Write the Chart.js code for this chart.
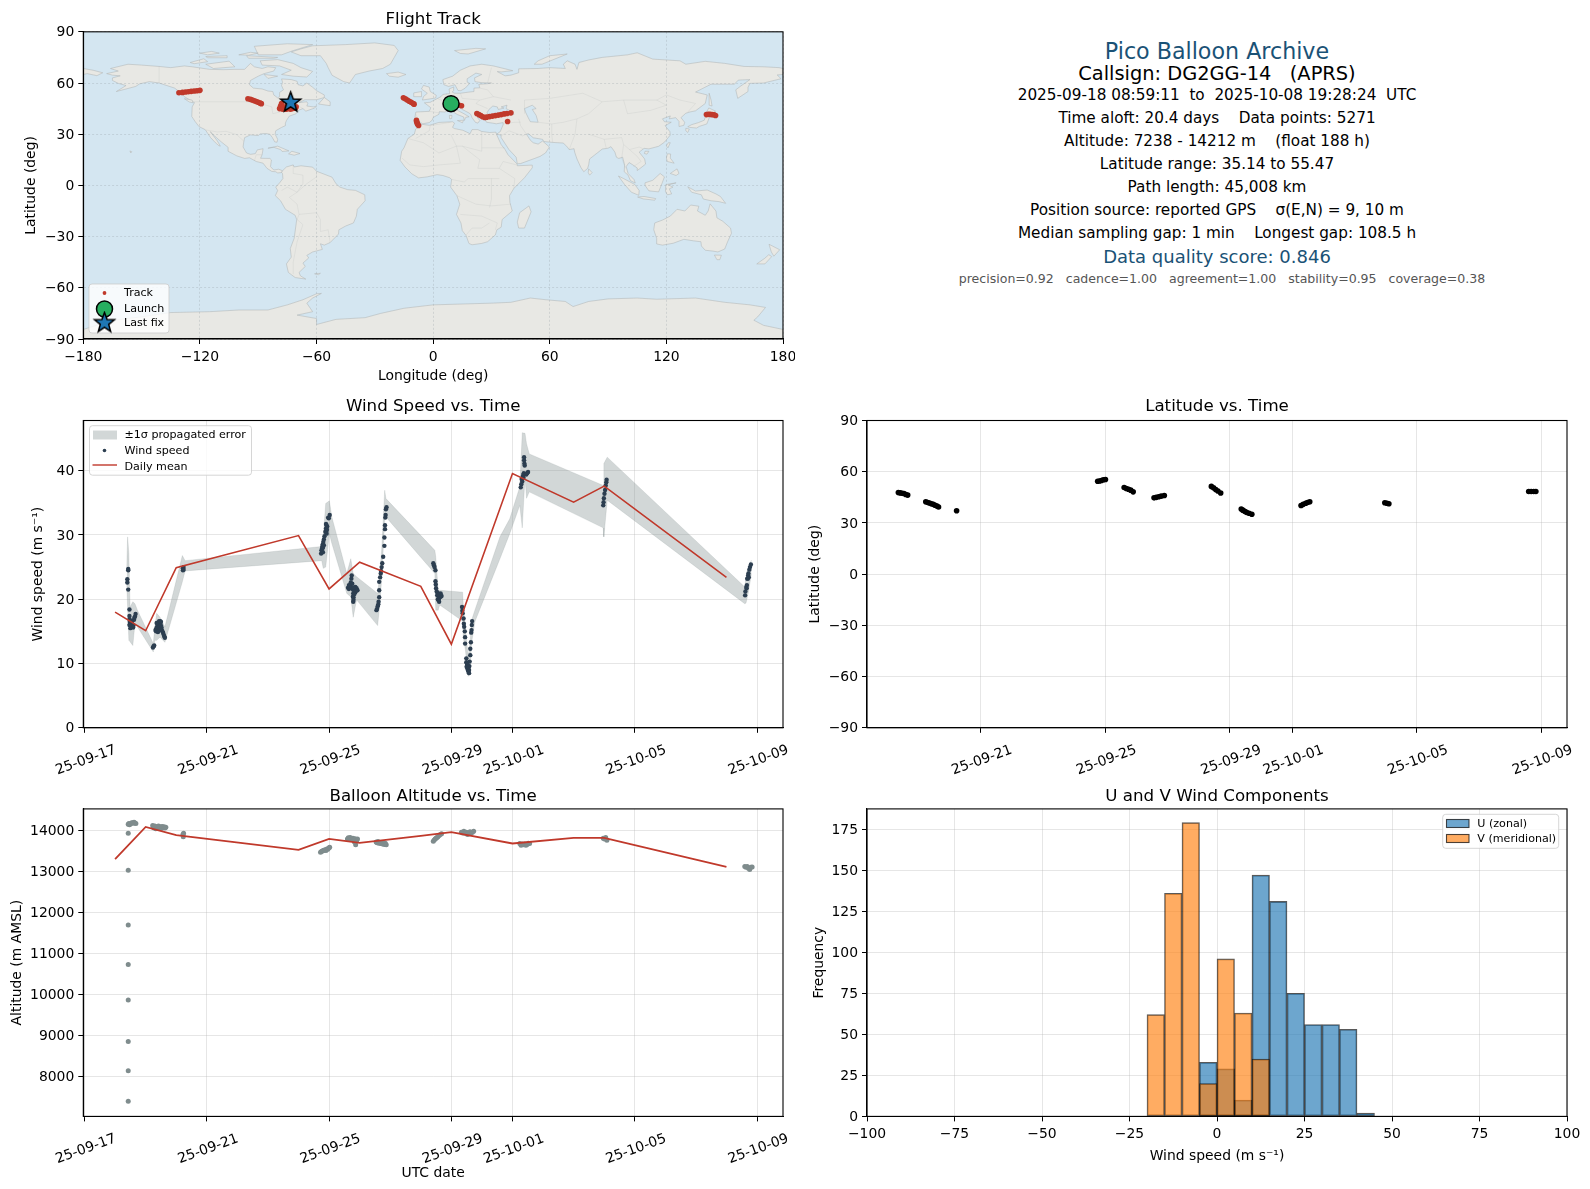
<!DOCTYPE html>
<html>
<head>
<meta charset="utf-8">
<title>Pico Balloon Archive</title>
<script src="https://cdn.jsdelivr.net/npm/chart.js@4"></script>
<style>
    html, body { margin: 0; padding: 0; background: #fff; }
    body { position: relative; width: 1590px; height: 1189px; overflow: hidden; font-family: "DejaVu Sans", sans-serif; }
    canvas { position: absolute; }
    .info { position: absolute; left: 817px; width: 800px; text-align: center; white-space: pre; color: #000; transform: translateY(-50%); }
    .big { font-size: 22.2px; color: #1a5276; }
    .sub { font-size: 19.4px; }
    .row { font-size: 15.25px; }
    .score { font-size: 18px; color: #1a5276; }
    .small { font-size: 12.55px; color: #555; }
</style>
</head>
<body>
<canvas id="mapChart" width="795" height="385" style="left:0;top:0"></canvas>
<canvas id="windChart" width="795" height="390" style="left:0;top:385px"></canvas>
<canvas id="latChart" width="795" height="390" style="left:795px;top:385px"></canvas>
<canvas id="altChart" width="795" height="414" style="left:0;top:775px"></canvas>
<canvas id="histChart" width="795" height="414" style="left:795px;top:775px"></canvas>

<div class="info big" style="top:51px">Pico Balloon Archive</div>
<div class="info sub" style="top:73px">Callsign: DG2GG-14   (APRS)</div>
<div class="info row" style="top:95px">2025-09-18 08:59:11  to  2025-10-08 19:28:24  UTC</div>
<div class="info row" style="top:118px">Time aloft: 20.4 days    Data points: 5271</div>
<div class="info row" style="top:141px">Altitude: 7238 - 14212 m    (float 188 h)</div>
<div class="info row" style="top:164px">Latitude range: 35.14 to 55.47</div>
<div class="info row" style="top:187px">Path length: 45,008 km</div>
<div class="info row" style="top:210px">Position source: reported GPS    σ(E,N) = 9, 10 m</div>
<div class="info row" style="top:233px">Median sampling gap: 1 min    Longest gap: 108.5 h</div>
<div class="info score" style="top:256px">Data quality score: 0.846</div>
<div class="info small" style="top:277.5px;margin-left:5px">precision=0.92   cadence=1.00   agreement=1.00   stability=0.95   coverage=0.38</div>

<script>
// Time axis is in days since 2025-09-17 00:00 UTC
const dateTickDays = [0, 4, 8, 12, 14, 18, 22];
const dateTickLabels = ['25-09-17', '25-09-21', '25-09-25', '25-09-29', '25-10-01', '25-10-05', '25-10-09'];

// Map ticks
const lonTicks = [-180, -120, -60, 0, 60, 120, 180];
const latTicks = [-90, -60, -30, 0, 30, 60, 90];
const windTicks = [0, 10, 20, 30, 40];
const altTicks = [8000, 9000, 10000, 11000, 12000, 13000, 14000];
const histXTicks = [-100, -75, -50, -25, 0, 25, 50, 75, 100];
const histYTicks = [0, 25, 50, 75, 100, 125, 150, 175];

// Flight track, lon / lat
const trackLon = [-130.8, -129, -127.5, -126, -124.5, -123, -121.5, -120,
    -95.3, -94, -93, -92, -91, -90, -89, -88.4,
    -79, -78.5, -78, -77, -76, -75, -74.5, -73.5, -73, -72, -71, -70.5, -77.5, -75.5, -72.5,
    -15.3, -14.3, -13.3, -12.3, -11.3, -10.3, -9.8,
    -8.6, -8.5, -8.2, -8, -7.5,
    14.6, 13.4,
    22.5, 23.5, 24.5, 25.5, 26.6,
    27.5, 29, 30.5, 32, 33.5, 35, 36.5, 38, 40,
    38.3,
    140.6, 141.5, 142.5, 143.5, 144.5, 145.3];
const trackLat = [54.3, 54.5, 54.7, 54.9, 55.1, 55.3, 55.5, 55.7,
    50.8, 50.4, 50, 49.6, 49.2, 48.7, 48.2, 47.9,
    45, 46.5, 48, 46, 44.8, 47, 45.5, 44.6, 48.4, 46, 45.2, 46, 44.7, 44.6, 45,
    51.4, 50.8, 50, 49.3, 48.7, 48, 47.6,
    38.2, 37.3, 36.5, 35.8, 35.1,
    46.7, 47,
    42.1, 41.5, 40.9, 40.2, 39.8,
    40, 40.3, 40.6, 40.9, 41.2, 41.5, 41.9, 42.1, 42.5,
    37.4,
    41.5, 41.7, 41.6, 41.5, 41.4, 41];
const launchLon = [9.2], launchLat = [47.9];
const lastLon = [-73.3], lastLat = [48.6];

// Wind speed samples
const windTimes = [1.43, 1.43, 1.40, 1.40, 1.43, 1.47, 1.47, 1.47, 1.48, 1.49, 1.50, 1.52, 1.53, 1.55, 1.57, 1.59, 1.60, 1.62, 1.63, 1.65, 1.67, 1.50, 1.55, 1.47,
    2.24, 2.26, 2.28,
    2.32, 2.34, 2.35, 2.37, 2.38, 2.40, 2.42, 2.44, 2.45, 2.47, 2.48, 2.50, 2.52, 2.53, 2.55, 2.57, 2.59, 2.61, 2.63, 2.36, 2.40, 2.44, 2.47, 2.50, 2.42,
    3.22, 3.22, 3.24, 3.24,
    7.74, 7.75, 7.77, 7.78, 7.79, 7.80, 7.81, 7.83, 7.85, 7.88, 7.90, 7.91, 7.92, 7.93, 7.94, 7.97, 7.99, 8.02, 7.80, 7.83, 7.92, 7.90,
    8.62, 8.65, 8.67, 8.69, 8.71, 8.73, 8.74, 8.76, 8.78, 8.79, 8.80, 8.79, 8.80, 8.82, 8.84, 8.86, 8.88, 8.90, 8.93, 8.83, 8.86, 8.78, 8.65, 8.72, 8.80,
    9.55, 9.57, 9.59, 9.61, 9.62, 9.64, 9.64, 9.64, 9.67, 9.69, 9.70, 9.72, 9.74, 9.77, 9.81, 9.81, 9.83, 9.83, 9.84, 9.85, 9.86, 9.88,
    11.41, 11.43, 11.45, 11.48, 11.48, 11.49, 11.50, 11.52, 11.54, 11.56, 11.57, 11.60, 11.62, 11.65, 11.68, 11.55, 11.60, 11.65, 11.58,
    12.35, 12.36, 12.37, 12.40, 12.41, 12.42, 12.44, 12.45, 12.45, 12.49, 12.49, 12.51, 12.52, 12.54, 12.56, 12.58, 12.59, 12.60, 12.62, 12.62, 12.64, 12.65, 12.66, 12.67, 12.68, 12.53, 12.56, 12.50, 12.58,
    14.27, 14.29, 14.32, 14.33, 14.35, 14.37, 14.39, 14.38, 14.38, 14.40, 14.45, 14.48, 14.51, 14.30, 14.36,
    16.97, 16.98, 16.99, 17.01, 17.03, 17.05, 17.07, 17.08,
    21.61, 21.62, 21.65, 21.67, 21.68, 21.71, 21.73, 21.75, 21.77, 21.80, 21.70, 21.72, 21.66];
const windSpeeds = [24.7, 24.5, 23.1, 22.6, 21.5, 18.4, 17.4, 16.9, 16.5, 16.1, 16.7, 15.9, 16.3, 15.8, 16.0, 15.6, 15.9, 16.8, 17.1, 17.3, 17.7, 15.5, 16.5, 16.0,
    12.5, 12.7, 12.8,
    15.2, 15.0, 15.5, 15.3, 15.8, 15.6, 16.0, 15.7, 16.3, 16.6, 16.2, 15.9, 15.6, 15.2, 15.0, 14.8, 14.5, 14.2, 14.0, 16.3, 14.9, 16.6, 15.3, 16.5, 15.0,
    24.5, 24.8, 25.0, 24.6,
    27.1, 27.6, 27.9, 28.2, 28.5, 28.0, 28.9, 29.3, 29.8, 30.5, 31, 30.5, 31.5, 30.8, 31.3, 32.7, 32.6, 33.1, 27.3, 28.4, 30.2, 31.7,
    21.8, 21.6, 21.9, 22.2, 22.6, 23.2, 23.7, 22.4, 21.5, 20.9, 20.3, 19.6, 19.9, 21.0, 21.3, 21.1, 21.6, 21.7, 21.4, 20.8, 21.9, 20.4, 22.2, 21.8, 21.8,
    18.3, 18.5, 18.9, 19.2, 19.6, 20.3, 21.4, 22.7, 23.4, 24, 24.4, 25, 25.6, 26.6, 28.3, 29.6, 30.9, 31.5, 32.7, 33.1, 34.0, 34.3,
    25.6, 25.3, 25.0, 24.5, 22.8, 22.3, 21.7, 21.2, 20.6, 20.0, 19.9, 20.1, 20.3, 20.4, 20.5, 21, 19.6, 20.9, 20.7,
    18.8, 18.2, 17.8, 17.0, 16.2, 15.7, 15.0, 14.1, 13.1, 10.8, 10.2, 10.0, 9.3, 9.0, 8.7, 9.0, 9.6, 10.3, 11.3, 12.3, 13.3, 14.8, 15.2, 16.0, 16.6, 9.8, 9.4, 9.5, 8.5,
    37.4, 37.9, 38.3, 38.9, 39.3, 39.6, 41.1, 41.6, 42.1, 40.8, 39.4, 39.6, 39.8, 38.7, 38.9,
    34.6, 35.1, 35.7, 36.4, 37, 37.7, 38.2, 38.6,
    20.6, 21.2, 21.9, 22.2, 23.2, 23.7, 23.4, 24.6, 25, 25.4, 23.2, 24, 21.7];

// +/- 1 sigma band around the wind speed
const bandTimes = [1.38, 1.41, 1.45, 1.49, 1.58, 1.65, 1.73, 2.25, 2.30, 2.36, 2.47, 2.63, 3.20, 3.29,
    7.76, 7.81, 7.89, 8.01, 8.09, 8.58, 8.71, 8.79, 8.90, 9.59, 9.65, 9.72, 9.82, 9.86,
    11.46, 11.49, 11.57, 11.62, 12.37, 12.39, 12.46, 12.55, 12.61, 12.66, 12.77, 13.59, 13.91, 14.24, 14.32, 14.41, 14.46, 14.55,
    16.97, 16.99, 17.10, 21.60, 21.64, 21.71, 21.82];
const bandUpper = [25.0, 29.7, 27.1, 18.8, 19.6, 19.3, 18.3, 13.1, 15.7, 17.8, 17.2, 15.7, 26.8, 26.0,
    28.2, 29.7, 34.9, 35.3, 32.8, 24.0, 26.3, 24.0, 23.5, 20.9, 23.5, 27.6, 36.95, 35.65,
    27.6, 26.6, 21.4, 21.4, 21.1, 19.0, 15.7, 11.0, 13.1, 16.7, 18.3, 29.7, 32.5, 37.5, 45.9, 45.8, 44.2, 42.6,
    37.7, 41.1, 42.1, 21.9, 23.5, 25.0, 26.1];
const bandLower = [22.4, 18.8, 13.6, 13.4, 12.8, 16.2, 15.7, 11.8, 13.6, 13.6, 14.1, 13.3, 22.7, 24.4,
    26.0, 24.8, 25.0, 30.2, 28.7, 20.9, 20.4, 17.2, 19.9, 15.9, 18.8, 23.0, 32.3, 32.8,
    24.0, 18.3, 18.3, 19.1, 16.6, 14.1, 12.1, 8.0, 8.4, 13.1, 16.5, 26.3, 30.2, 34.6, 31.1, 39.0, 35.7, 36.7,
    31.1, 29.7, 35.4, 19.3, 19.4, 20.9, 24.0];

// Daily means
const dailyTimes = [1, 2, 3, 7, 8, 9, 11, 12, 14, 16, 17, 21];
const dailyWind = [18.0, 15.1, 24.9, 29.9, 21.6, 25.75, 22.0, 13.0, 39.55, 35.1, 37.6, 23.4];
const dailyAlt = [13300, 14088, 13885, 13527, 13795, 13698, 13868, 13958, 13683, 13820, 13820, 13112];

// Latitude samples
const latTimes = [1.36, 1.42, 1.48, 1.54, 1.60, 1.66,
    2.24, 2.30, 2.36, 2.42, 2.48, 2.54, 2.60, 2.65,
    3.23,
    7.76, 7.82, 7.88, 7.94, 8.01,
    8.61, 8.68, 8.75, 8.82, 8.90,
    9.57, 9.64, 9.72, 9.80, 9.90,
    11.41, 11.48, 11.55, 11.62, 11.71,
    12.37, 12.42, 12.48, 12.54, 12.62, 12.71,
    14.29, 14.36, 14.44, 14.50, 14.57,
    16.98, 17.05, 17.11,
    21.6, 21.68, 21.76, 21.83];
const latValues = [47.8, 47.6, 47.4, 47.2, 46.7, 46.3,
    42.4, 42, 41.7, 41.2, 40.9, 40.4, 39.9, 39.3,
    37.1,
    54.4, 54.6, 54.9, 55.3, 55.4,
    50.8, 50.2, 49.7, 49.2, 48.2,
    44.7, 45, 45.3, 45.7, 46.1,
    51.4, 50.6, 49.6, 48.7, 47.5,
    38.2, 37.5, 36.8, 36.2, 35.7, 35.1,
    40.2, 40.9, 41.5, 42, 42.4,
    41.8, 41.5, 41.2,
    48.4, 48.4, 48.4, 48.4];

// Altitude samples
const altTimes = [1.43, 1.43, 1.43, 1.43, 1.43, 1.43, 1.43, 1.43,
    1.43, 1.45, 1.47, 1.50, 1.53, 1.56, 1.59, 1.62, 1.65, 1.68,
    2.23, 2.25, 2.28, 2.30, 2.33, 2.36, 2.39, 2.42, 2.45, 2.48, 2.51, 2.54, 2.57, 2.60, 2.63, 2.66,
    3.22, 3.23, 3.24,
    7.72, 7.75, 7.78, 7.81, 7.84, 7.87, 7.90, 7.93, 7.96, 7.99, 8.02,
    8.60, 8.63, 8.66, 8.69, 8.72, 8.75, 8.78, 8.81, 8.83, 8.85, 8.87, 8.90, 8.93,
    9.54, 9.57, 9.60, 9.63, 9.66, 9.69, 9.72, 9.75, 9.78, 9.81, 9.84, 9.87,
    11.41, 11.44, 11.47, 11.50, 11.53, 11.56, 11.60, 11.64, 11.68,
    12.33, 12.37, 12.41, 12.45, 12.49, 12.53, 12.57, 12.61, 12.65, 12.69, 12.73,
    14.24, 14.28, 14.32, 14.36, 14.40, 14.44, 14.48, 14.52, 14.56,
    16.97, 17.01, 17.05, 17.09,
    21.60, 21.64, 21.68, 21.72, 21.76, 21.80, 21.84];
const altValues = [7393, 8134, 8851, 9866, 10732, 11695, 13032, 13930,
    14153, 14170, 14140, 14160, 14180, 14190, 14175, 14200, 14185, 14170,
    14120, 14080, 14060, 14110, 14040, 14090, 14070, 14110, 14060, 14090, 14050, 14100, 14070, 14090, 14060, 14080,
    13900, 13850, 13930,
    13470, 13490, 13500, 13510, 13520, 13530, 13510, 13550, 13540, 13570, 13590,
    13790, 13820, 13790, 13830, 13800, 13780, 13810, 13770, 13720, 13800, 13650, 13750, 13790,
    13720, 13700, 13730, 13690, 13710, 13680, 13700, 13670, 13700, 13660, 13690, 13650,
    13740, 13770, 13790, 13810, 13830, 13850, 13880, 13900, 13920,
    13960, 13940, 13980, 13930, 13960, 13900, 13950, 13970, 13940, 13960, 13980,
    13680, 13640, 13670, 13650, 13670, 13640, 13660, 13690, 13680,
    13810, 13790, 13830, 13760,
    13120, 13100, 13120, 13080, 13050, 13100, 13110];

// Histogram, bin centres (5 m/s wide bins)
const uBins = [-2.5, 2.5, 7.5, 12.5, 17.5, 22.5, 27.5, 32.5, 37.5, 42.5];
const uCounts = [33, 29, 10, 147, 131, 75, 56, 56, 53, 2];
const vBins = [-17.5, -12.5, -7.5, -2.5, 2.5, 7.5, 12.5];
const vCounts = [62, 136, 179, 20, 96, 63, 35];

// World outlines, rough coastlines as [lon, lat]
const landShapes = [
    // North America
    [[-168,65.5],[-164,66.5],[-162,67],[-166,68.5],[-157,71],[-150,70.5],[-141,69.7],[-135,69],[-128,70],[-124,69.5],[-115,68],[-108,67.8],[-102,68],[-97,68],[-94,71.5],[-92,69.5],[-88,68.5],[-85,69.5],[-81,69],[-82,67],[-87,65.5],[-90,64],[-94,61.5],[-94.5,59],[-92.5,57],[-88,56.5],[-85,55.3],[-82.5,55],[-82,53],[-80,51.3],[-79,52],[-79,54.5],[-77,56],[-78,58.5],[-77.5,60.5],[-78,62.4],[-73,62],[-70,61],[-69.5,59],[-67,58.3],[-65,60],[-62,57.5],[-60,55.5],[-56,53],[-56,51.5],[-60,50.2],[-66,50.2],[-69,48.5],[-65,49],[-64.5,48],[-65,46.5],[-61.5,46],[-60,46.5],[-61,45.3],[-65.5,43.5],[-67,45],[-70,43.7],[-70.5,42],[-74,40.6],[-75.5,38],[-76,36.5],[-76,35],[-78,34],[-81,32],[-81.3,30],[-80,27],[-80.3,25.3],[-81.5,25.5],[-82.7,28],[-84,30],[-86,30.4],[-89,30.2],[-90,29.2],[-94,29.6],[-97,28],[-97.5,25],[-97.8,22.5],[-96,19],[-94,18.2],[-91.5,18.6],[-90.5,20.8],[-87.5,21.5],[-88,18],[-88.8,15.9],[-84,15.8],[-83.2,14.9],[-83.7,11],[-82,9],[-79.5,9.5],[-77.5,8.6],[-78,7.5],[-80,7.3],[-81,8],[-83,8.2],[-85.5,10],[-87.5,13],[-91,14],[-94.5,16.2],[-97,15.8],[-101,17.3],[-105.5,20],[-105.5,22.3],[-109,25.5],[-112.5,29],[-114.7,31.5],[-113,29],[-111,26],[-109.5,23],[-110.3,23.3],[-112,25],[-114.5,28],[-116,30.5],[-117.2,32.6],[-120.5,34.5],[-122.5,37.5],[-124.2,40.4],[-124,46],[-122.8,48.5],[-125,50],[-128,52],[-130.3,54.7],[-133,57],[-137,58.5],[-141,60],[-146,60.8],[-151,59.5],[-153,58],[-158,56.5],[-163,55],[-158,58.5],[-162,59.8],[-165,61.5],[-165,63],[-161,64.2],[-165,64.6]],
    // Greenland
    [[-73,78.2],[-68,80],[-62,81.8],[-45,82.5],[-30,83.5],[-20,82],[-18,79],[-20,75],[-22,71],[-26,68.5],[-33,67],[-40,65],[-43,60],[-46,60.8],[-52,64.5],[-54,69],[-55,71.5],[-58,76],[-68,76]],
    // Arctic Canada
    [[-80,73.7],[-72,71.5],[-68,69],[-62,66.8],[-65,63.5],[-72,64],[-78,65],[-73,67.5],[-79,70],[-88,70.5],[-89,73]],
    [[-117,71],[-105,72.8],[-102,69.5],[-113,68.5]],
    [[-125,72],[-118,74.2],[-116,72.5],[-123,71.3]],
    [[-90,76.5],[-78,76.5],[-72,79],[-62,82.5],[-75,83],[-92,81.5]],
    [[-96,76],[-80,75],[-82,74.5],[-95,74.5]],
    [[-117,75.5],[-106,76],[-106,74.8],[-116,74.8]],
    [[-120,77.5],[-114,78.5],[-110,77.5],[-116,76.5]],
    [[-100,76.5],[-94,78],[-90,77.5],[-95,76.3]],
    [[-87,65],[-80,64],[-85,62.7]],
    [[-59,47.7],[-53,46.7],[-53,49],[-56,51.5]],
    [[-128,50.8],[-124,50],[-123.5,48.4],[-125.5,48.9]],
    // Caribbean, Hawaii
    [[-85,21.8],[-80,23],[-74.2,20.2],[-77.7,19.9],[-78.5,21],[-82,22.3]],
    [[-74.4,18.5],[-72.7,20],[-68.5,18.7],[-71.5,17.7]],
    [[-156,20.2],[-155,19.7],[-155.6,19]],
    // South America
    [[-77.5,8.6],[-75.5,10.8],[-72,12],[-71.5,10.8],[-68,11.5],[-62,10.7],[-60,8.3],[-52,4.8],[-50,1],[-48,-1],[-44,-2.5],[-40,-2.9],[-35.2,-5.5],[-35,-9],[-39,-14],[-39.5,-18],[-41,-22],[-45,-23.8],[-48.5,-26],[-48.7,-28.5],[-53,-33.5],[-56,-35],[-58,-34.2],[-57,-37.5],[-62,-39],[-65,-41],[-64,-42.5],[-67,-45.5],[-65.8,-47.5],[-69,-51],[-68.3,-53],[-65.5,-54.9],[-71,-54],[-74.5,-51],[-75.5,-46],[-73,-42],[-73.5,-37],[-71.5,-31],[-70.2,-20],[-71,-17.5],[-76,-14],[-78.5,-9],[-81.2,-6],[-80,-3],[-81,-1],[-79,1.5],[-77.3,4],[-77.5,7],[-78,7.5]],
    [[-61,-51.8],[-58,-51.5],[-59,-52.3]],
    // Eurasia
    [[-9,37],[-9.5,38.8],[-8.9,43],[-2,43.4],[-1.2,45.5],[-4.5,48.4],[-1.5,48.7],[1.5,50.5],[4,52],[5,53.3],[8.5,53.8],[8.2,56.5],[10.6,57.7],[10.5,55.5],[9.8,54.7],[11,54],[14,54],[18.5,54.7],[21,55],[21,57],[24,57.2],[23.5,59.2],[28,59.6],[30,60],[25,60.2],[21.5,60.8],[21.3,63],[25,65],[22,65.8],[17.5,62.5],[17.5,60.5],[18.8,59.8],[16.5,57],[14.3,55.5],[12.8,55.6],[11.2,59],[8,58],[5.5,59],[5,62],[10,64],[14,67.5],[19,70],[25,71],[31,70],[41,67.2],[35,66.5],[33,66.7],[37,64.2],[40,64.6],[44,66],[44,68.3],[54,68.5],[60,69],[68,68.5],[67,71],[69,73],[73,71],[74,68],[75,72],[80,73.5],[87,75],[100,76.5],[105,77.7],[113,74],[127,73],[130,71],[140,72.7],[150,71.5],[160,69.7],[170,69.5],[178,69],[180,68.5],[180,65],[177,64.7],[179,62.5],[170,60],[163,59.8],[162,57.5],[162,55],[156.7,51],[155.7,56],[158,58],[163,62],[157,61.7],[155,59.3],[143,59.3],[135,54.7],[141,53],[140,48],[135,43.7],[132,43],[130,42.3],[127.5,39.7],[129.4,37],[129,35.2],[126.5,34.5],[126.5,37.5],[124.8,39.7],[121.5,39],[122,40.7],[118,39],[119,37.3],[122.5,37],[119.3,35],[121.8,31.5],[122,29.5],[119,25.3],[116,22.9],[111,21.4],[108.5,21.7],[106,19.5],[108.8,15.5],[109.3,12.5],[107,10.4],[105,8.7],[105,10.2],[102.5,12.2],[100.8,13.4],[99.3,11],[100.3,7],[103.3,3.5],[104,1.4],[101.5,2.8],[100.3,6],[98.3,8],[98.5,12],[97.5,16.5],[95.5,15.8],[94.3,16.5],[93.5,19.5],[91.5,22.7],[90,21.8],[87,21.3],[85,19.5],[80.5,15.5],[80,12],[79.5,10],[77.5,8],[76,10.5],[74,15.5],[72.8,19.5],[72.5,21.5],[70,21],[69,22.5],[67,24.8],[61.5,25.2],[57,25.7],[56.3,27],[51.5,27.9],[49,30.3],[48,30],[50,26.5],[51.5,25],[54,24.2],[56.3,26],[59.8,22.5],[57.8,19],[55,17],[52,15.7],[45,12.8],[43.3,12.7],[42.7,16.5],[39,21],[35,28],[34.9,29.5],[32.6,30],[34.5,31.5],[36,35.5],[36,36.8],[32.5,36.1],[30.5,36.5],[27.5,37],[26.3,39.3],[29,41],[31.5,41.1],[35,42],[38,41],[41.5,41.6],[41,43],[37.5,45],[38,47],[35,46],[36.5,45.3],[33.5,44.5],[33,46],[30.7,46.5],[28.7,44.5],[27.7,42.5],[28.5,41.3],[26,40.7],[23.5,40.5],[22.7,40],[24,38],[23,36.5],[21.7,37],[20,39.7],[19.4,41.5],[18.5,42.4],[15,44.5],[13.7,45.7],[12.3,45.3],[12.5,44],[16,41.9],[18.5,40.2],[16.8,39.9],[16,38],[15.7,40.1],[12.5,41.5],[10.3,43],[8.8,44.4],[6,43],[3.2,43.2],[3,41.7],[0,39.8],[-0.5,38.2],[-2,36.8],[-5.4,36.1],[-6.5,36.9]],
    [[-180,65],[-180,68.5],[-175,67.5],[-170,66],[-173,64.3],[-178,65.5]],
    // Islands around Europe
    [[-24,65.5],[-18,66.4],[-14,65],[-18,63.4],[-22.5,64]],
    [[-5.5,50],[1.3,51.2],[1.6,52.8],[-1.5,55],[-2,57.6],[-5,58.6],[-6,56.5],[-3,54],[-5,52]],
    [[-10,52],[-6,52],[-6,55],[-10,54.2]],
    [[11,79],[22,80.3],[27,80],[18,77],[14,77.3]],
    [[52,71],[56,71],[69,77],[60,76],[54,73]],
    [[12.5,38],[15.6,38.2],[15.1,36.7]],
    [[8.3,41],[9.7,41],[9.5,39.2],[8.5,39]],
    // East Asia
    [[142,54],[143,50],[143.5,46.5],[142,47]],
    [[140.3,42],[141.8,45.4],[145.3,43.5],[143,42],[141,41.7]],
    [[141,41.3],[142,39.5],[140.8,36],[137,34.6],[135.5,33.6],[132,34],[131,34.4],[133,35.6],[136.5,36.8],[139.5,38.2],[140,40]],
    [[130,33.5],[131.8,33],[131,31],[130,32]],
    [[121,25],[122,25],[120.8,22],[120,23.2]],
    [[109,20],[111,20],[110,18.3],[108.7,18.7]],
    [[120.5,18.5],[122.2,18.4],[122,16],[124,13],[120.5,14],[120,16]],
    [[122,7],[125.5,9.7],[126.5,7],[125,5.8]],
    [[80,9.7],[81.8,7.5],[80.5,6],[79.8,7.5]],
    // Indonesia, New Guinea
    [[109,1.5],[113,3],[116.8,7],[119,5],[117.7,1],[116,-3.8],[111,-3.2],[109,0]],
    [[95.3,5.5],[98,4],[103.8,0.5],[106,-3],[105.8,-5.8],[102,-4],[98.5,0.5]],
    [[105.2,-6.8],[108.5,-6.5],[114.5,-7.7],[114,-8.7],[108,-7.9]],
    [[119.7,0.5],[125,1.5],[121,0.3],[123.4,-1],[121.5,-2],[122.7,-5],[120.5,-5.5],[119.5,-3.5]],
    [[131,-0.8],[135,-3.3],[141,-2.7],[145.5,-5],[147.8,-6.5],[150.5,-10.5],[147,-9.5],[143,-9],[139,-8],[138,-5.5],[133,-4],[132.2,-2.8]],
    // Africa
    [[-5.8,35.8],[-2,35.2],[3,36.9],[10,37.3],[11,36.5],[10,34],[11,33.3],[15.3,32.3],[19,30.3],[20,32.7],[23,32.7],[25,31.6],[29,31],[32.3,31.2],[32.6,29.9],[35,23.9],[37,21],[38.5,18],[43.2,12.5],[43.3,11.5],[51,11.9],[51,10.3],[47,4.5],[41.5,-1.8],[39.3,-6],[39.5,-10],[40.7,-15],[35.5,-20],[35,-24.5],[32.8,-26],[32,-29],[28,-33],[25,-34],[20,-34.8],[18.4,-34],[17,-29.5],[15,-26.5],[14.3,-22],[12,-17],[13.7,-11],[12.2,-6],[9,-1],[9.5,3.5],[8.5,4.5],[5,5.8],[2,6.3],[-3,5],[-7.5,4.4],[-11,6.8],[-14.5,10.8],[-17,14.7],[-16.2,20],[-15,22],[-13,27.5],[-9.7,30],[-9,33]],
    [[49.3,-12],[50.4,-15.5],[47,-25],[44,-25],[43.3,-21.5],[44.5,-16]],
    // Australia and New Zealand
    [[114,-22],[113.5,-26],[115,-31],[115,-34.3],[118,-35],[123.5,-33.9],[129,-31.6],[134,-32.5],[137.8,-33],[138,-35.5],[140,-38],[144,-38.5],[146.5,-39],[150,-37.3],[151.5,-33],[153.5,-28],[153,-25],[149,-21],[146,-19],[145.5,-15],[142.5,-10.8],[141.5,-15],[140,-17.5],[136,-15],[136.7,-12.2],[132.5,-11.5],[129.5,-15],[125.5,-14],[122,-18],[118,-20.3]],
    [[144.7,-40.8],[148.3,-40.9],[147.5,-43.5],[146,-43.5]],
    [[172.8,-34.5],[178.3,-37.7],[175.3,-41.5],[174,-39]],
    [[172.7,-40.6],[174.2,-41.7],[170.7,-46],[166.5,-46],[170.5,-42.8]],
    // Antarctica
    [[-180,-84.4],[-165,-79],[-150,-77],[-135,-74.5],[-115,-74],[-100,-73],[-85,-73],[-75,-70],[-67,-67],[-60,-63.5],[-57.5,-63.3],[-62,-66],[-65,-69],[-62,-74],[-70,-76],[-60,-78],[-60,-81.5],[-50,-78.5],[-35,-77.5],[-27,-75],[-15,-72],[0,-70],[15,-69.5],[30,-69],[40,-68.5],[50,-66],[58,-67],[68,-68],[72,-71],[80,-68],[90,-66.5],[105,-66],[115,-66.7],[135,-66],[150,-68.5],[163,-70],[171,-71.5],[167,-77],[165,-79],[170,-82],[180,-84.4],[180,-90],[-180,-90]]
];
const caspianShape = [[47,45],[51,47],[53,45],[51,44.5],[53,41],[54,37],[50,37.3],[49,39.5],[47.5,43]];
const borderLines = [
    [[-141,60],[-141,69.7]],
    [[-123,49],[-95,49],[-89,48],[-83,46],[-82.5,42],[-79,43],[-75,45],[-70,47],[-67,45]],
    [[-117,32.5],[-111,31.3],[-106.5,31.7],[-101,29.7],[-97.5,26]],
    [[-92,14.5],[-91,18],[-88,18]],
    [[-72,12],[-72,7],[-67,6],[-67,1],[-70,-4],[-74,-7],[-70,-11],[-69,-17],[-70,-20]],
    [[-60,8.3],[-60,5],[-65,1],[-70,-4]],
    [[-69,-17],[-60,-16],[-58,-20],[-58,-27],[-54,-26],[-53,-33.5]],
    [[-70,-20],[-67,-23],[-70,-33],[-72,-45],[-72,-52]],
    [[-78,-3],[-75,-1],[-70,-4]],
    [[-9,27.5],[-2,32],[-1.5,35],[9,37]],
    [[-13,27.5],[-5,25],[3,19],[12,23],[15,23],[25,20],[25,31.6]],
    [[25,22],[37,22]],
    [[9,30],[12,23],[14,13],[3,12],[-5,11],[-12,12],[-16,16]],
    [[15,23],[24,15],[23,10],[34,10],[36,14],[43,12]],
    [[34,10],[42,4],[41.5,-1.8]],
    [[9.5,3.5],[16,2],[18,4],[30,4],[34,4]],
    [[12.2,-6],[22,-11],[30,-12],[40,-11]],
    [[14,-17],[25,-18],[33,-22],[32,-26]],
    [[17,-29],[20,-25],[25,-25],[29,-22]],
    [[30,4],[30,-8],[29,-13]],
    [[2,51],[6,49],[8,48],[7,44]],
    [[-2,43.4],[3,42.5]],
    [[-9,42],[-7,37]],
    [[6,51],[7,54]],
    [[14,54],[15,51],[24,50],[22,48],[28,45]],
    [[24,57],[28,56],[31,52],[24,50]],
    [[40,50],[31,52]],
    [[28,60],[30,69]],
    [[47,42],[47,50],[60,51],[77,54],[87,49],[80,42],[74,39],[67,37],[61,36],[54,37]],
    [[87,49],[98,50],[115,50],[120,53],[127,50],[135,48],[131,43]],
    [[98,50],[100,42],[112,44],[120,47],[115,50]],
    [[44,39],[45,35],[48,30]],
    [[36,36],[42,37],[45,37]],
    [[35,29],[39,32],[46,29],[48,30]],
    [[61,36],[61,30],[61.5,25]],
    [[74,39],[73,30],[70,21]],
    [[80,30],[88,27],[97,28],[98,24],[101,21],[106,22.5],[108,21.5]],
    [[88,27],[89,22]],
    [[98,24],[97,16],[99,10]],
    [[101,21],[105,17],[107,14],[103,11]]
];

const fontFamily = '"DejaVu Sans", sans-serif';
const redColor = '#c0392b';
const darkColor = '#2c3e50';
const greyColor = '#7f8c8d';
const gridColor = 'rgba(176,176,176,0.32)';

Chart.defaults.font.family = fontFamily;
Chart.defaults.font.size = 13.9;
Chart.defaults.color = '#000';
Chart.defaults.animation = false;

function zip(xs, ys) {
    return xs.map((x, i) => ({ x: x, y: ys[i] }));
}

// Force the box of an axis so all panels line up
function fixSize(prop, size) {
    return function (scale) {
        scale[prop] = size;
        scale.paddingLeft = scale.paddingRight = scale.paddingTop = scale.paddingBottom = 0;
    };
}

function setTicks(values) {
    return function (scale) {
        scale.ticks = values.filter(v => v >= scale.min && v <= scale.max).map(v => ({ value: v }));
    };
}

function minusLabel(v) {
    return String(v).replace('-', '\u2212');
}

function numberAxis(min, max, values, size, title, pad) {
    const isY = size.prop === 'width';
    return {
        type: 'linear', min: min, max: max, offset: false,
        grid: { color: gridColor, lineWidth: 1, tickColor: '#000', tickLength: 5, offset: false },
        border: { color: '#000', width: 1.1 },
        ticks: { callback: v => minusLabel(v), autoSkip: false, maxRotation: 0, minRotation: 0, padding: isY ? 4 : 5, labelOffset: isY ? 1 : 0 },
        title: title ? { display: true, text: title, padding: { top: pad, bottom: pad } } : { display: false },
        afterBuildTicks: setTicks(values),
        afterFit: fixSize(size.prop, size.value)
    };
}

function dateAxis(min, max, height, title, pad) {
    const axis = numberAxis(min, max, dateTickDays, { prop: 'height', value: height }, title, pad);
    axis.ticks = {
        callback: v => dateTickLabels[dateTickDays.indexOf(v)],
        autoSkip: false, maxRotation: 20, minRotation: 20, labelOffset: 31, padding: 9
    };
    return axis;
}

function panelTitle(text, top, bottom) {
    return { display: true, text: text, fullSize: false, font: { size: 16.67, weight: 'normal' }, padding: { top: top, bottom: bottom } };
}

// Black box round the plot area
const framePlugin = {
    id: 'frame',
    afterDraw(chart) {
        const a = chart.chartArea, ctx = chart.ctx;
        ctx.save();
        ctx.strokeStyle = '#000';
        ctx.lineWidth = 1.1;
        ctx.strokeRect(a.left, a.top, a.right - a.left, a.bottom - a.top);
        ctx.restore();
    }
};

function legendBox(ctx, x, y, w, h) {
    ctx.fillStyle = 'rgba(255,255,255,0.8)';
    ctx.strokeStyle = 'rgba(204,204,204,0.8)';
    ctx.lineWidth = 1;
    ctx.beginPath();
    ctx.roundRect(x, y, w, h, 3);
    ctx.fill();
    ctx.stroke();
    ctx.font = '11.1px ' + fontFamily;
    ctx.textBaseline = 'middle';
    ctx.fillStyle = '#000';
}

function starImage(outer) {
    const c = document.createElement('canvas');
    const size = Math.ceil(outer * 2 + 4);
    c.width = c.height = size;
    const g = c.getContext('2d');
    g.beginPath();
    for (let i = 0; i < 10; i++) {
        const r = i % 2 ? outer * 0.42 : outer;
        const a = -Math.PI / 2 + i * Math.PI / 5;
        g.lineTo(size / 2 + r * Math.cos(a), size / 2 + r * Math.sin(a));
    }
    g.closePath();
    g.fillStyle = '#1f77b4';
    g.fill();
    g.lineWidth = 1.5;
    g.strokeStyle = '#000';
    g.stroke();
    return c;
}
const starMark = starImage(10.5);

// Ocean, land and borders go under the grid
const mapBackground = {
    id: 'mapBackground',
    beforeDraw(chart) {
        const ctx = chart.ctx, a = chart.chartArea;
        const x = chart.scales.x, y = chart.scales.y;
        function trace(pts) {
            ctx.beginPath();
            pts.forEach(p => ctx.lineTo(x.getPixelForValue(p[0]), y.getPixelForValue(p[1])));
        }
        ctx.save();
        ctx.beginPath();
        ctx.rect(a.left, a.top, a.right - a.left, a.bottom - a.top);
        ctx.clip();
        ctx.fillStyle = '#d4e6f1';
        ctx.fillRect(a.left, a.top, a.right - a.left, a.bottom - a.top);
        ctx.fillStyle = '#e8e8e4';
        ctx.strokeStyle = 'rgba(170,175,175,0.6)';
        ctx.lineWidth = 0.8;
        ctx.lineJoin = 'round';
        landShapes.forEach(shape => {
            trace(shape);
            ctx.closePath();
            ctx.fill();
            ctx.stroke();
        });
        ctx.fillStyle = '#d4e6f1';
        trace(caspianShape);
        ctx.closePath();
        ctx.fill();
        ctx.stroke();
        ctx.strokeStyle = 'rgba(170,175,175,0.3)';
        ctx.lineWidth = 0.6;
        borderLines.forEach(line => {
            trace(line);
            ctx.stroke();
        });
        ctx.restore();
    }
};

const mapLegend = {
    id: 'mapLegend',
    afterDraw(chart) {
        const ctx = chart.ctx;
        ctx.save();
        legendBox(ctx, 89, 284, 80, 49);
        ctx.fillText('Track', 124, 293.5);
        ctx.fillText('Launch', 124, 309);
        ctx.fillText('Last fix', 124, 323.5);
        ctx.fillStyle = redColor;
        ctx.beginPath();
        ctx.arc(104.5, 293, 1.9, 0, Math.PI * 2);
        ctx.fill();
        ctx.fillStyle = '#27ae60';
        ctx.strokeStyle = '#000';
        ctx.lineWidth = 1.5;
        ctx.beginPath();
        ctx.arc(104.5, 309, 8, 0, Math.PI * 2);
        ctx.fill();
        ctx.stroke();
        ctx.drawImage(starMark, 104.5 - starMark.width / 2, 323 - starMark.height / 2);
        ctx.restore();
    }
};

const windLegend = {
    id: 'windLegend',
    afterDraw(chart) {
        const ctx = chart.ctx, dy = -385;
        ctx.save();
        legendBox(ctx, 89.5, 425.7 + dy, 162, 49.5);
        ctx.fillText('\u00b11\u03c3 propagated error', 124.5, 435.5 + dy);
        ctx.fillText('Wind speed', 124.5, 451 + dy);
        ctx.fillText('Daily mean', 124.5, 467 + dy);
        ctx.fillStyle = 'rgba(127,140,141,0.35)';
        ctx.fillRect(93, 430.5 + dy, 24, 9);
        ctx.fillStyle = darkColor;
        ctx.beginPath();
        ctx.arc(104.5, 450.5 + dy, 1.8, 0, Math.PI * 2);
        ctx.fill();
        ctx.strokeStyle = redColor;
        ctx.lineWidth = 1.4;
        ctx.beginPath();
        ctx.moveTo(92.5, 465 + dy);
        ctx.lineTo(117, 465 + dy);
        ctx.stroke();
        ctx.restore();
    }
};

const histLegend = {
    id: 'histLegend',
    afterDraw(chart) {
        const ctx = chart.ctx, dx = -795, dy = -775;
        ctx.save();
        legendBox(ctx, 1442.7 + dx, 814.3 + dy, 116, 34);
        ctx.fillText('U (zonal)', 1477.3 + dx, 824 + dy);
        ctx.fillText('V (meridional)', 1477.3 + dx, 839.5 + dy);
        ctx.lineWidth = 1.1;
        ctx.strokeStyle = 'rgba(0,0,0,0.7)';
        ctx.fillStyle = 'rgba(31,119,180,0.65)';
        ctx.fillRect(1446.5 + dx, 819.5 + dy, 22.5, 8);
        ctx.strokeRect(1446.5 + dx, 819.5 + dy, 22.5, 8);
        ctx.fillStyle = 'rgba(255,127,14,0.65)';
        ctx.fillRect(1446.5 + dx, 834.5 + dy, 22.5, 8);
        ctx.strokeRect(1446.5 + dx, 834.5 + dy, 22.5, 8);
        ctx.restore();
    }
};

function baseOptions(title, rightPad, xAxis, yAxis) {
    return {
        responsive: false,
        devicePixelRatio: 1,
        layout: { padding: { left: 0, top: 0, bottom: 0, right: rightPad } },
        plugins: { legend: { display: false }, tooltip: { enabled: false }, title: title },
        scales: { x: xAxis, y: yAxis }
    };
}

// Flight track map
const mapX = numberAxis(-180, 180, lonTicks, { prop: 'height', value: 46 }, 'Longitude (deg)', 0.5);
mapX.grid.color = 'rgba(150,160,165,0.3)';
mapX.border.dash = [2, 2];
const mapY = numberAxis(-90, 90, latTicks, { prop: 'width', value: 83.3 }, 'Latitude (deg)', 23);
mapY.grid.color = 'rgba(150,160,165,0.3)';
mapY.border.dash = [2, 2];
new Chart(document.getElementById('mapChart'), {
    type: 'scatter',
    data: {
        datasets: [
            { data: zip(lastLon, lastLat), pointStyle: starMark, order: 0 },
            { data: zip(launchLon, launchLat), pointRadius: 8, pointBackgroundColor: '#27ae60', pointBorderColor: '#000', pointBorderWidth: 1.5, order: 1 },
            { data: zip(trackLon, trackLat), pointRadius: 2.8, pointBackgroundColor: redColor, pointBorderWidth: 0, order: 2 }
        ]
    },
    options: baseOptions(panelTitle('Flight Track', 9.3, 2.5), 12, mapX, mapY),
    plugins: [mapBackground, framePlugin, mapLegend]
});

// Wind speed against time
new Chart(document.getElementById('windChart'), {
    type: 'scatter',
    data: {
        datasets: [
            { data: zip(dailyTimes, dailyWind), showLine: true, borderColor: redColor, borderWidth: 1.6, pointRadius: 0, order: 0 },
            { data: zip(windTimes, windSpeeds), pointRadius: 2.2, pointBackgroundColor: darkColor, pointBorderWidth: 0, order: 1 },
            { data: zip(bandTimes, bandUpper), showLine: true, fill: '+1', backgroundColor: 'rgba(127,140,141,0.35)', borderColor: 'rgba(127,140,141,0.25)', borderWidth: 0.7, pointRadius: 0, order: 2 },
            { data: zip(bandTimes, bandLower), showLine: true, borderColor: 'rgba(127,140,141,0.25)', borderWidth: 0.7, pointRadius: 0, order: 3 }
        ]
    },
    options: baseOptions(panelTitle('Wind Speed vs. Time', 11.8, 3.7), 12,
        dateAxis(-0.04, 22.85, 47.2),
        numberAxis(0, 47.8, windTicks, { prop: 'width', value: 83.3 }, 'Wind speed (m s\u207b\u00b9)', 30.2)),
    plugins: [framePlugin, windLegend]
});

// Latitude against time
new Chart(document.getElementById('latChart'), {
    type: 'scatter',
    data: {
        datasets: [
            { data: zip(latTimes, latValues), pointRadius: 2.8, pointBackgroundColor: '#000', pointBorderWidth: 0 }
        ]
    },
    options: baseOptions(panelTitle('Latitude vs. Time', 11.8, 3.7), 23,
        dateAxis(0.353, 22.83, 47.2),
        numberAxis(-90, 90, latTicks, { prop: 'width', value: 72 }, 'Latitude (deg)', 12)),
    plugins: [framePlugin]
});

// Altitude against time
new Chart(document.getElementById('altChart'), {
    type: 'scatter',
    data: {
        datasets: [
            { data: zip(dailyTimes, dailyAlt), showLine: true, borderColor: redColor, borderWidth: 1.8, pointRadius: 0, order: 0 },
            { data: zip(altTimes, altValues), pointRadius: 2.5, pointBackgroundColor: greyColor, pointBorderWidth: 0, order: 1 }
        ]
    },
    options: baseOptions(panelTitle('Balloon Altitude vs. Time', 11.2, 2.7), 12,
        dateAxis(-0.04, 22.85, 72.6, 'UTC date', 7.6),
        numberAxis(7022, 14527, altTicks, { prop: 'width', value: 83.3 }, 'Altitude (m AMSL)', 8.9)),
    plugins: [framePlugin]
});

// Histogram of U and V
new Chart(document.getElementById('histChart'), {
    type: 'bar',
    data: {
        datasets: [
            { label: 'U (zonal)', data: zip(uBins, uCounts), backgroundColor: 'rgba(31,119,180,0.65)', borderColor: 'rgba(0,0,0,0.65)', borderWidth: 1.1, borderSkipped: false, order: 2, barPercentage: 1, categoryPercentage: 1, grouped: false },
            { label: 'V (meridional)', data: zip(vBins, vCounts), backgroundColor: 'rgba(255,127,14,0.65)', borderColor: 'rgba(0,0,0,0.65)', borderWidth: 1.1, borderSkipped: false, order: 1, barPercentage: 1, categoryPercentage: 1, grouped: false }
        ]
    },
    options: baseOptions(panelTitle('U and V Wind Components', 11.2, 2.7), 23,
        numberAxis(-100, 100, histXTicks, { prop: 'height', value: 72.6 }, 'Wind speed (m s\u207b\u00b9)', 24.6),
        numberAxis(0, 187.4, histYTicks, { prop: 'width', value: 72 }, 'Frequency', 16)),
    plugins: [framePlugin, histLegend]
});
</script>
</body>
</html>
